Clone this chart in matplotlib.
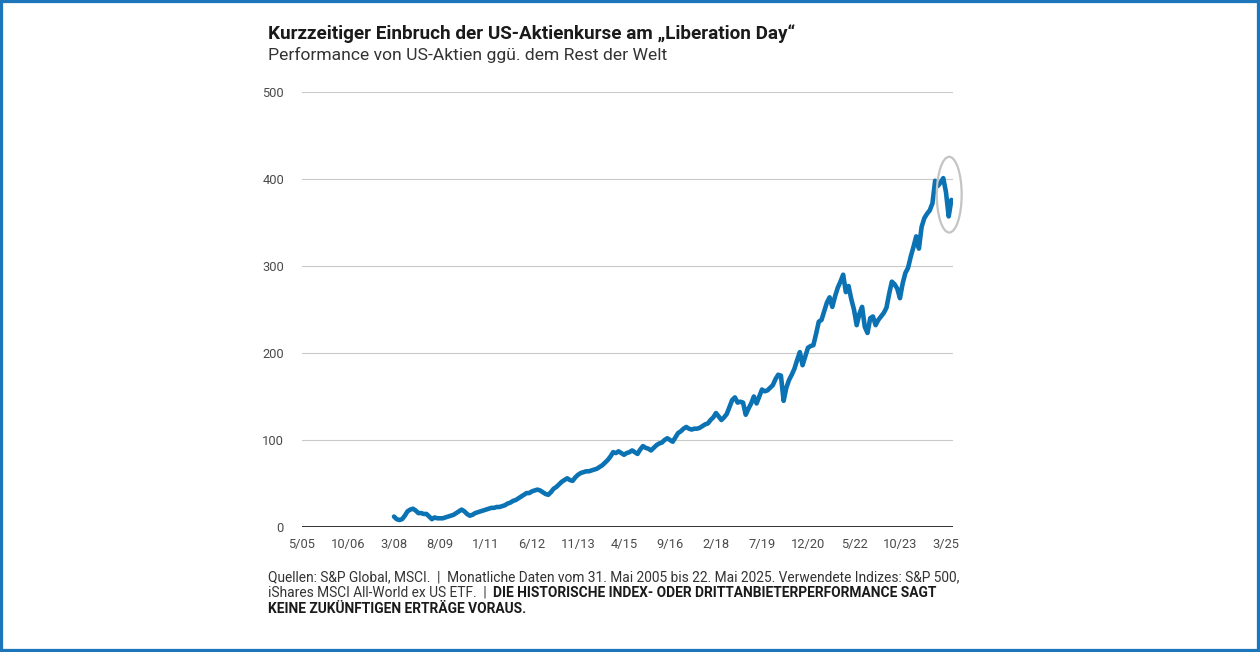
import matplotlib
matplotlib.use('Agg')
import matplotlib.pyplot as plt
from matplotlib.patches import Ellipse, Rectangle
import numpy as np

plt.rcParams['font.family'] = ['Roboto', 'DejaVu Sans']

# ---------------- data ----------------
title = "Kurzzeitiger Einbruch der US-Aktienkurse am „Liberation Day“"
subtitle = "Performance von US-Aktien ggü. dem Rest der Welt"
start_year, start_month = 2008, 3   # first monthly observation
axis_start_year, axis_start_month = 2005, 5

values_2008 = [12, 9, 8, 9, 13, 18, 20, 21, 19, 16]              # Mar-Dec
values_2009 = [16, 15, 15, 12, 9, 11, 10, 10, 10, 11, 12, 13]
values_2010 = [14, 16, 18, 20, 18, 15, 13, 14, 16, 17, 18, 19]
values_2011 = [20, 21, 22, 22, 23, 23, 24, 25, 27, 28, 30, 31]
values_2012 = [33, 35, 37, 39, 39, 41, 42, 43, 42, 40, 38, 37]
values_2013 = [40, 44, 46, 49, 52, 54, 56, 54, 53, 57, 60, 62]
values_2014 = [63, 64, 64, 65, 66, 67, 69, 71, 74, 77, 81, 86]
values_2015 = [85, 87, 85, 83, 85, 86, 88, 86, 84, 89, 93, 91]
values_2016 = [90, 88, 91, 94, 96, 97, 100, 102, 100, 98, 103, 108]
values_2017 = [110, 113, 115, 113, 112, 113, 113, 114, 116, 118, 119, 123]
values_2018 = [126, 131, 127, 123, 126, 130, 138, 146, 149, 143, 144, 143]
values_2019 = [129, 136, 142, 150, 142, 150, 158, 156, 157, 160, 163, 170]
values_2020 = [175, 174, 145, 160, 169, 175, 182, 192, 201, 186, 196, 206]
values_2021 = [208, 209, 222, 236, 238, 248, 258, 264, 253, 265, 275, 282]
values_2022 = [290, 270, 277, 262, 250, 232, 245, 253, 230, 223, 240, 242]
values_2023 = [232, 238, 242, 246, 252, 268, 282, 279, 274, 263, 280, 292]
values_2024 = [298, 311, 322, 334, 320, 345, 355, 360, 364, 372, 398, 392]
values_2025 = [396, 401, 385, 357, 376]                          # Jan-May

values = (values_2008 + values_2009 + values_2010 + values_2011 + values_2012 +
          values_2013 + values_2014 + values_2015 + values_2016 + values_2017 +
          values_2018 + values_2019 + values_2020 + values_2021 + values_2022 +
          values_2023 + values_2024 + values_2025)

x_tick_labels = ['5/05', '10/06', '3/08', '8/09', '1/11', '6/12', '11/13', '4/15',
                 '9/16', '2/18', '7/19', '12/20', '5/22', '10/23', '3/25']
y_ticks = [0, 100, 200, 300, 400, 500]

footnote_1 = ("Quellen: S&P Global, MSCI.  |  Monatliche Daten vom 31. Mai 2005 bis 22. Mai 2025. "
              "Verwendete Indizes: S&P 500,")
footnote_2a = "iShares MSCI All-World ex US ETF.  |  "
footnote_2b = "DIE HISTORISCHE INDEX- ODER DRITTANBIETERPERFORMANCE SAGT"
footnote_3 = "KEINE ZUKÜNFTIGEN ERTRÄGE VORAUS."

# ---------------- helpers ----------------
def month_index(year, month):
    return (year - axis_start_year) * 12 + (month - axis_start_month)

def label_index(lbl):
    m, yy = lbl.split('/')
    return month_index(2000 + int(yy), int(m))

x = month_index(start_year, start_month) + np.arange(len(values))
y = np.array(values, dtype=float)
x_ticks = [label_index(l) for l in x_tick_labels]

# ---------------- figure ----------------
W, H = 1260, 652
fig = plt.figure(figsize=(W / 100, H / 100), dpi=100)
fig.patch.set_facecolor('white')

ax = fig.add_axes([302 / W, 1 - 527 / H, (953 - 302) / W, (527 - 92) / H])
ax.set_xlim(0, 240.6)
ax.set_ylim(0, 500)

for v in y_ticks[1:]:
    ax.axhline(v, color='#c9c9c9', lw=0.8, zorder=1)
ax.axhline(0, color='#111111', lw=1.2, zorder=3)

ax.plot(x, y, color='#0b72b3', lw=3.3, solid_capstyle='round',
        solid_joinstyle='round', zorder=4)

# highlight circle around the most recent months
last = y[-6:]
ell = Ellipse((x[-1] - 0.8, (last.max() + last.min()) / 2 + 3), width=9.2, height=87,
              fill=False, edgecolor='#c4c4c4', lw=1.6, zorder=5, clip_on=False)
ax.add_patch(ell)

for s in ax.spines.values():
    s.set_visible(False)
ax.set_xticks(x_ticks)
ax.set_xticklabels(x_tick_labels)
ax.set_yticks(y_ticks)
ax.set_yticklabels([str(v) for v in y_ticks])
ax.tick_params(axis='both', length=0, labelsize=9.3, colors='#4a4a4a')
ax.tick_params(axis='x', pad=8)
ax.tick_params(axis='y', pad=13)
for lbl in ax.get_yticklabels():
    lbl.set_horizontalalignment('right')

# ---------------- texts ----------------
tx = 268 / W
t_title = fig.text(tx, 1 - 39 / H, title, fontsize=12, fontweight='bold',
                   color='#1a1a1a', va='baseline', ha='left')
t_sub = fig.text(tx, 1 - 60 / H, subtitle, fontsize=12, color='#333333',
                 va='baseline', ha='left')
f1 = fig.text(tx, 1 - 581 / H, footnote_1, fontsize=8.5, color='#333333',
              va='baseline', ha='left')
f2a = fig.text(tx, 1 - 597 / H, footnote_2a, fontsize=8.5, color='#333333',
               va='baseline', ha='left')
f3 = fig.text(tx, 1 - 613 / H, footnote_3, fontsize=8.5, fontweight='bold',
              color='#1a1a1a', va='baseline', ha='left')

fig.canvas.draw()
r = fig.canvas.get_renderer()

def fit(t, target_px):
    w = t.get_window_extent(r).width
    t.set_fontsize(t.get_fontsize() * target_px / w)

fit(t_title, 792 - 268)
fit(t_sub, 665 - 268)
fit(f1, 953 - 268)
fs_note = f1.get_fontsize()
f2a.set_fontsize(fs_note)
f3.set_fontsize(fs_note)
fig.canvas.draw()
e = f2a.get_window_extent(r)
f2b = fig.text(e.x1 / W, 1 - 597 / H, footnote_2b, fontsize=fs_note, fontweight='bold',
               color='#1a1a1a', va='baseline', ha='left')

# outer frame
fig.add_artist(Rectangle((0, 0), 1, 1, transform=fig.transFigure, fill=False,
                         edgecolor='#1c76b9', lw=4.5, clip_on=False))

fig.savefig('out.png', dpi=100, facecolor='white')
